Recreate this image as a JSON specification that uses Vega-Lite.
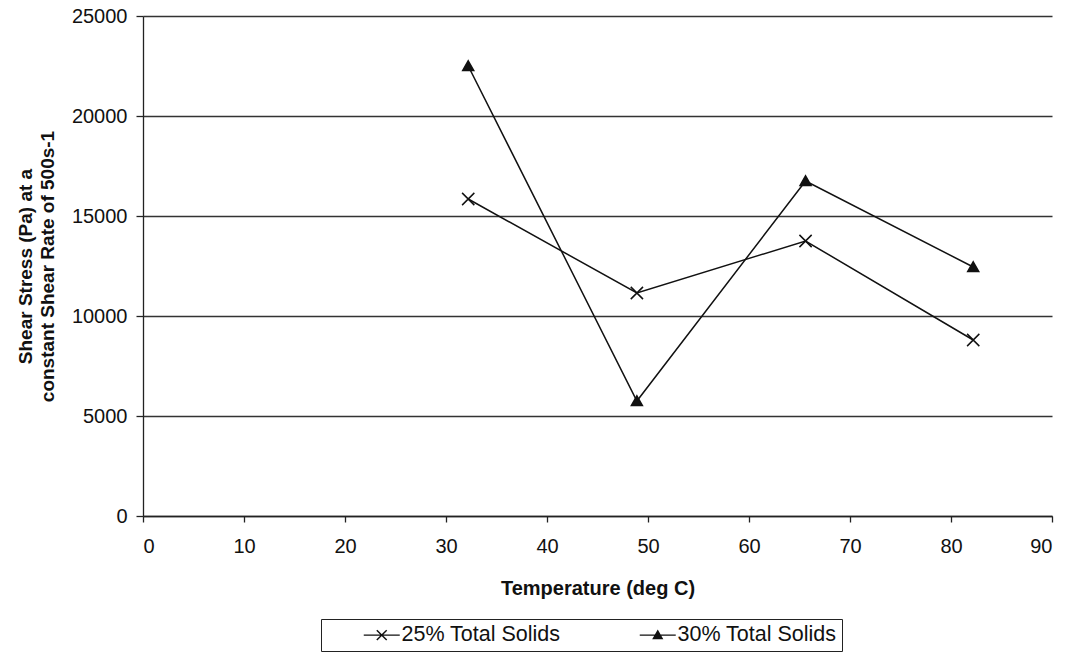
{
  "$schema": "https://vega.github.io/schema/vega-lite/v6.json",
  "width": 909,
  "height": 500,
  "autosize": {"type": "none"},
  "padding": {"left": 143, "top": 16, "right": 17, "bottom": 138},
  "background": "white",
  "config": {
    "font": "Liberation Sans",
    "view": {"stroke": null},
    "axis": {
      "labelFont": "Liberation Sans",
      "titleFont": "Liberation Sans",
      "labelFontSize": 20,
      "titleFontSize": 19,
      "labelColor": "#111",
      "titleColor": "#111",
      "domainColor": "#222",
      "tickColor": "#222",
      "domainWidth": 1.3,
      "tickWidth": 1.3
    }
  },
  "data": {
    "values": [
      {"series": "25% Total Solids", "temp": 32.2, "stress": 15850},
      {"series": "25% Total Solids", "temp": 48.9, "stress": 11150},
      {"series": "25% Total Solids", "temp": 65.6, "stress": 13750},
      {"series": "25% Total Solids", "temp": 82.2, "stress": 8800},
      {"series": "30% Total Solids", "temp": 32.2, "stress": 22500},
      {"series": "30% Total Solids", "temp": 48.9, "stress": 5750},
      {"series": "30% Total Solids", "temp": 65.6, "stress": 16750},
      {"series": "30% Total Solids", "temp": 82.2, "stress": 12450}
    ]
  },
  "encoding": {
    "x": {
      "field": "temp",
      "type": "quantitative",
      "scale": {"domain": [0, 90], "nice": false},
      "axis": {
        "title": "Temperature (deg C)",
        "titleFontWeight": "bold",
        "titleFontSize": 20,
        "titlePadding": 22,
        "values": [0, 10, 20, 30, 40, 50, 60, 70, 80, 90],
        "grid": false,
        "tickSize": 6,
        "labelPadding": 14
      }
    },
    "y": {
      "field": "stress",
      "type": "quantitative",
      "scale": {"domain": [0, 25000], "nice": false},
      "axis": {
        "title": ["Shear Stress (Pa) at a", "constant Shear Rate of 500s-1"],
        "titleFontWeight": "bold",
        "titlePadding": 14,
        "titleLineHeight": 22,
        "values": [0, 5000, 10000, 15000, 20000, 25000],
        "format": "d",
        "grid": true,
        "gridColor": "#333",
        "gridWidth": 1.4,
        "gridOpacity": 1,
        "tickSize": 7,
        "labelPadding": 9
      }
    }
  },
  "resolve": {"scale": {"shape": "independent"}},
  "layer": [
    {
      "mark": {"type": "line", "color": "#111", "strokeWidth": 1.5},
      "encoding": {"detail": {"field": "series"}}
    },
    {
      "mark": {"type": "point", "opacity": 1, "stroke": "#111", "strokeWidth": 1.5, "size": 150},
      "encoding": {
        "shape": {
          "field": "series",
          "type": "nominal",
          "scale": {"range": ["M-1,-1L1,1M-1,1L1,-1", "M0,-0.85L0.9,0.75L-0.9,0.75Z"]},
          "legend": null
        },
        "fill": {
          "field": "series",
          "type": "nominal",
          "scale": {"range": ["transparent", "#111"]},
          "legend": null
        }
      }
    },
    {
      "mark": {"type": "point", "opacity": 0, "filled": true, "color": "#111", "size": 324},
      "encoding": {
        "shape": {
          "field": "series",
          "type": "nominal",
          "scale": {"range": [
            "M-2,-0.08V0.08H2V-0.08ZM-0.607,-0.493L0.493,0.607L0.607,0.493L-0.493,-0.607ZM-0.493,0.607L0.607,-0.493L0.493,-0.607L-0.607,0.493Z",
            "M-2,-0.08V0.08H2V-0.08ZM0,-0.62L-0.62,0.46L0.62,0.46Z"
          ]},
          "legend": {
            "title": null,
            "orient": "none",
            "legendX": 178,
            "legendY": 603,
            "direction": "horizontal",
            "columns": 2,
            "columnPadding": 41,
            "strokeColor": "#222",
            "padding": 5,
            "labelFont": "Liberation Sans",
            "labelFontSize": 21.5,
            "labelColor": "#111",
            "symbolSize": 324,
            "symbolOffset": 45,
            "symbolOpacity": 1,
            "symbolFillColor": "#111",
            "labelOffset": 9
          }
        }
      }
    }
  ]
}
